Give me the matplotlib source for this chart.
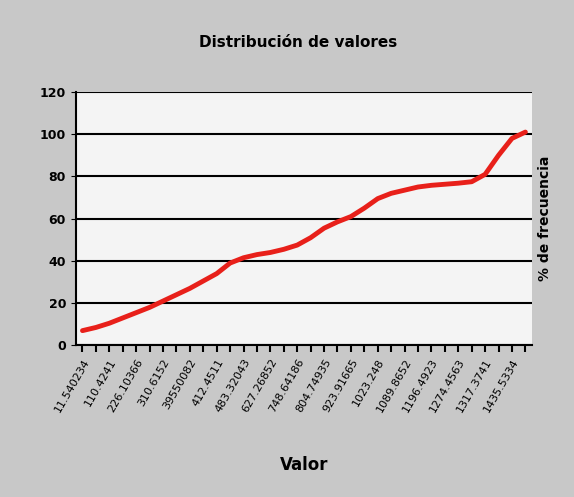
import matplotlib
matplotlib.use("Agg")
import matplotlib.pyplot as plt

labels = ["11.540234","110.4241","226.10366","310.6152","39550082","412.4511","483.32043",
          "627.26852","748.64186","804.74935","923.91665","1023.248","1089.8652","1196.4923",
          "1274.4563","1317.3741","1435.5334"]
values = [7, 8.5, 10.5, 13, 15.5, 18, 21, 24, 27, 30.5, 34, 39, 41.5, 43, 44, 45.5,
          47.5, 51, 55.5, 58.5, 61, 65, 69.5, 72, 73.5, 75, 75.8, 76.3, 76.8, 77.5, 81,
          90, 98, 101]

fig = plt.figure(figsize=(5.74, 4.97), dpi=100)
fig.patch.set_facecolor("#c8c8c8")
ax = fig.add_axes([0.132, 0.305, 0.795, 0.51])
ax.set_facecolor("#f4f4f4")
x = list(range(len(values)))
ax.plot(x, values, color="#e8201a", lw=3.5, solid_capstyle="round")
ax.set_ylim(0, 120)
ax.set_yticks(range(0, 121, 20))
ax.set_xlim(-0.5, len(values) - 0.5)
ax.set_xticks(range(0, 2 * len(labels), 2))
ax.set_xticklabels(labels, rotation=60, ha="right", rotation_mode="anchor", fontsize=8)
ax.set_xticks(range(len(values)), minor=True)
ax.tick_params(axis="x", which="both", length=5, width=1.5)
ax.tick_params(axis="y", labelsize=9)
for t in ax.get_yticklabels():
    t.set_fontweight("bold")
ax.yaxis.grid(True, color="black", lw=1.5)
ax.set_axisbelow(True)
for s in ["top", "right"]:
    ax.spines[s].set_visible(False)
ax.spines["left"].set_linewidth(1.5)
ax.spines["bottom"].set_linewidth(1.5)
ax.set_xlabel("Valor", fontsize=12, fontweight="bold", labelpad=30)
ax2 = ax.twinx()
ax2.set_yticks([])
for s in ["top", "right", "left", "bottom"]:
    ax2.spines[s].set_visible(False)
ax2.set_ylabel("% de frecuencia", fontsize=10, fontweight="bold", labelpad=4)
fig.text(0.52, 0.905, "Distribución de valores", ha="center", fontsize=11, fontweight="bold")
fig.savefig("out.png", facecolor=fig.get_facecolor())
